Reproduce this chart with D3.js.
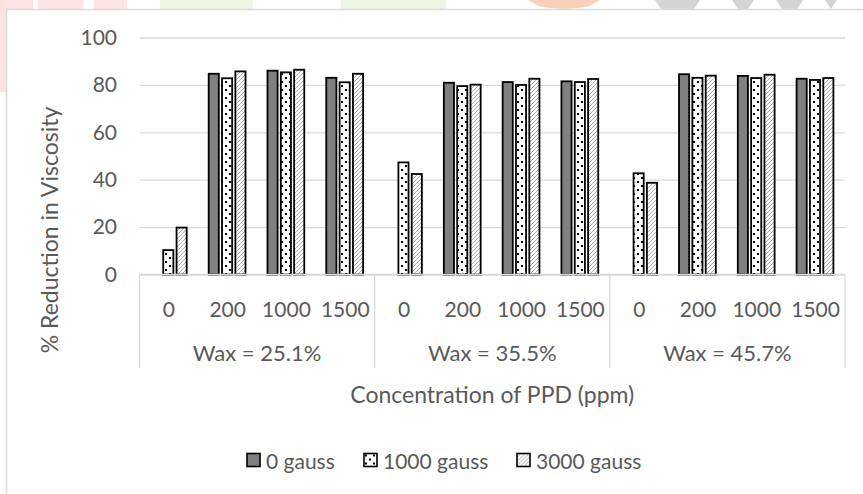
<!DOCTYPE html>
<html>
<head>
<meta charset="utf-8">
<script src="https://cdn.jsdelivr.net/npm/d3@7"></script>
<style>
  html, body { margin: 0; padding: 0; background: #fff; }
  svg { display: block; }
  text { font-family: Lato, "Open Sans", sans-serif; fill: #595959; }
</style>
</head>
<body>
<svg id="chart" width="863" height="494"></svg>
<script>
// ---- data ----
const groups = ["Wax = 25.1%", "Wax = 35.5%", "Wax = 45.7%"];
const ppd = ["0", "200", "1000", "1500"];
const series = ["0 gauss", "1000 gauss", "3000 gauss"];
const gauss0    = [0, 84.7, 86.0, 83.0,  0, 80.9, 81.2, 81.5,  0, 84.5, 83.8, 82.6];
const gauss1000 = [10.3, 82.8, 85.3, 81.1,  47.3, 79.5, 80.0, 81.2,  42.7, 83.0, 82.9, 82.1];
const gauss3000 = [19.8, 85.7, 86.4, 84.7,  42.4, 80.1, 82.6, 82.5,  38.7, 83.9, 84.3, 82.9];
const yTicks = [0, 20, 40, 60, 80, 100];
const yTitle = "% Reduction in Viscosity";
const xTitle = "Concentration of PPD (ppm)";

const values = [gauss0, gauss1000, gauss3000];
const fills = ["#808080", "url(#dots)", "url(#hatch)"];

const svg = d3.select("#chart");

// ---- faint watermark remnants at the top ----
const wm = svg.append("g");
wm.append("rect").attr("x", 0).attr("y", 0).attr("width", 7).attr("height", 92).attr("fill", "#fde3e3");
[[0,33],[38,83],[94,127]].forEach(([a,b]) => wm.append("rect").attr("x", a).attr("y", 0).attr("width", b-a).attr("height", 9).attr("fill", "#fde3e3"));
[[160,253],[341,446]].forEach(([a,b]) => wm.append("rect").attr("x", a).attr("y", 0).attr("width", b-a).attr("height", 9).attr("fill", "#ecf6e2"));
wm.append("path").attr("d", "M528,0 L600,0 L590,6 Q564,12 538,6 Z").attr("fill", "#f8d2b8");
[[655,700],[732,754],[776,803],[825,837]].forEach(([a,b]) => wm.append("path").attr("d", `M${a},0 L${b},0 L${b-6},9 L${a+6},9 Z`).attr("fill", "#d4d4d4"));

// ---- patterns ----
const defs = svg.append("defs");
const pd = defs.append("pattern").attr("id", "dots").attr("patternUnits", "userSpaceOnUse")
  .attr("width", 8).attr("height", 8);
pd.append("rect").attr("width", 8).attr("height", 8).attr("fill", "#fff");
pd.append("rect").attr("x", 1).attr("y", 1).attr("width", 2).attr("height", 2).attr("fill", "#000");
pd.append("rect").attr("x", 5).attr("y", 5).attr("width", 2).attr("height", 2).attr("fill", "#000");
const ph = defs.append("pattern").attr("id", "hatch").attr("patternUnits", "userSpaceOnUse")
  .attr("width", 4).attr("height", 4);
ph.append("rect").attr("width", 4).attr("height", 4).attr("fill", "#fff");
ph.append("path").attr("d", "M-1,1 L1,-1 M0,4 L4,0 M3,5 L5,3").attr("stroke", "#b0b0b0").attr("stroke-width", 1);

// ---- chart border ----
svg.append("rect").attr("x", 6.5).attr("y", 9.5).attr("width", 900).attr("height", 600)
  .attr("fill", "none").attr("stroke", "#d9d9d9").attr("stroke-width", 1.5);

// ---- scales ----
const plotL = 139.5, plotR = 845, plotT = 37.5, plotB = 274.5;
const y = d3.scaleLinear().domain([0, 100]).range([plotB, plotT]);
const cats = d3.range(groups.length * ppd.length);
const x0 = d3.scaleBand().domain(cats).range([plotL, plotR]).padding(0);
const cw = x0.bandwidth();
const x1 = d3.scaleBand().domain(series).range([cw / 2 - 19, cw / 2 + 19]).paddingInner(0.15);

// ---- gridlines ----
const grid = svg.append("g").attr("transform", `translate(${plotL},0)`)
  .call(d3.axisLeft(y).tickValues(yTicks).tickSize(-(plotR - plotL)).tickFormat(""));
grid.select(".domain").remove();
grid.selectAll("line").attr("stroke", "#d9d9d9").attr("stroke-width", 1.3);

// ---- y axis labels ----
const ya = svg.append("g").attr("transform", `translate(117,0)`)
  .call(d3.axisLeft(y).tickValues(yTicks).tickSize(0).tickPadding(0));
ya.select(".domain").remove();
ya.selectAll("text").attr("font-size", 21).attr("fill", "#595959").style("font-family", "Lato, sans-serif");

// ---- bars ----
const barData = [];
cats.forEach(c => series.forEach((s, si) => barData.push({ c, s, si, v: values[si][c] })));
svg.append("g").selectAll("rect").data(barData.filter(d => d.v > 0)).join("rect")
  .attr("x", d => x0(d.c) + x1(d.s))
  .attr("y", d => y(d.v))
  .attr("width", x1.bandwidth() - 1.2)
  .attr("height", d => y(0) - y(d.v))
  .attr("fill", d => fills[d.si])
  .attr("stroke", "#000")
  .attr("stroke-width", 1.8);

// ---- category axis ----
const axisLines = svg.append("g").attr("stroke", "#d9d9d9").attr("stroke-width", 1.3);
axisLines.append("line").attr("x1", plotL).attr("x2", plotR).attr("y1", plotB).attr("y2", plotB);
d3.range(groups.length + 1).forEach(i => {
  const xx = plotL + i * ppd.length * cw;
  axisLines.append("line").attr("x1", xx).attr("x2", xx).attr("y1", plotB).attr("y2", 368);
});
svg.append("g").selectAll("text").data(cats).join("text")
  .attr("x", c => x0(c) + cw / 2)
  .attr("y", 308)
  .attr("text-anchor", "middle").attr("dominant-baseline", "central")
  .attr("font-size", 21)
  .text(c => ppd[c % ppd.length]);
svg.append("g").selectAll("text").data(groups).join("text")
  .attr("x", (g, i) => plotL + (i + 0.5) * ppd.length * cw)
  .attr("y", 352)
  .attr("text-anchor", "middle").attr("dominant-baseline", "central")
  .attr("font-size", 22)
  .text(g => g);

// ---- titles ----
svg.append("text").attr("transform", "translate(49,230) rotate(-90)")
  .attr("text-anchor", "middle").attr("dominant-baseline", "central")
  .attr("font-size", 23).text(yTitle);
svg.append("text").attr("x", (plotL + plotR) / 2).attr("y", 394)
  .attr("text-anchor", "middle").attr("dominant-baseline", "central")
  .attr("font-size", 23).text(xTitle);

// ---- legend ----
const legX = [247, 364, 517];
const leg = svg.append("g").selectAll("g").data(series).join("g")
  .attr("transform", (d, i) => `translate(${legX[i]},453.5)`);
leg.append("rect").attr("width", 13).attr("height", 13)
  .attr("fill", (d, i) => fills[i]).attr("stroke", "#000").attr("stroke-width", 1.6);
leg.append("text").attr("x", 19).attr("y", 7).attr("dominant-baseline", "central")
  .attr("font-size", 21).text(d => d);
</script>
</body>
</html>
